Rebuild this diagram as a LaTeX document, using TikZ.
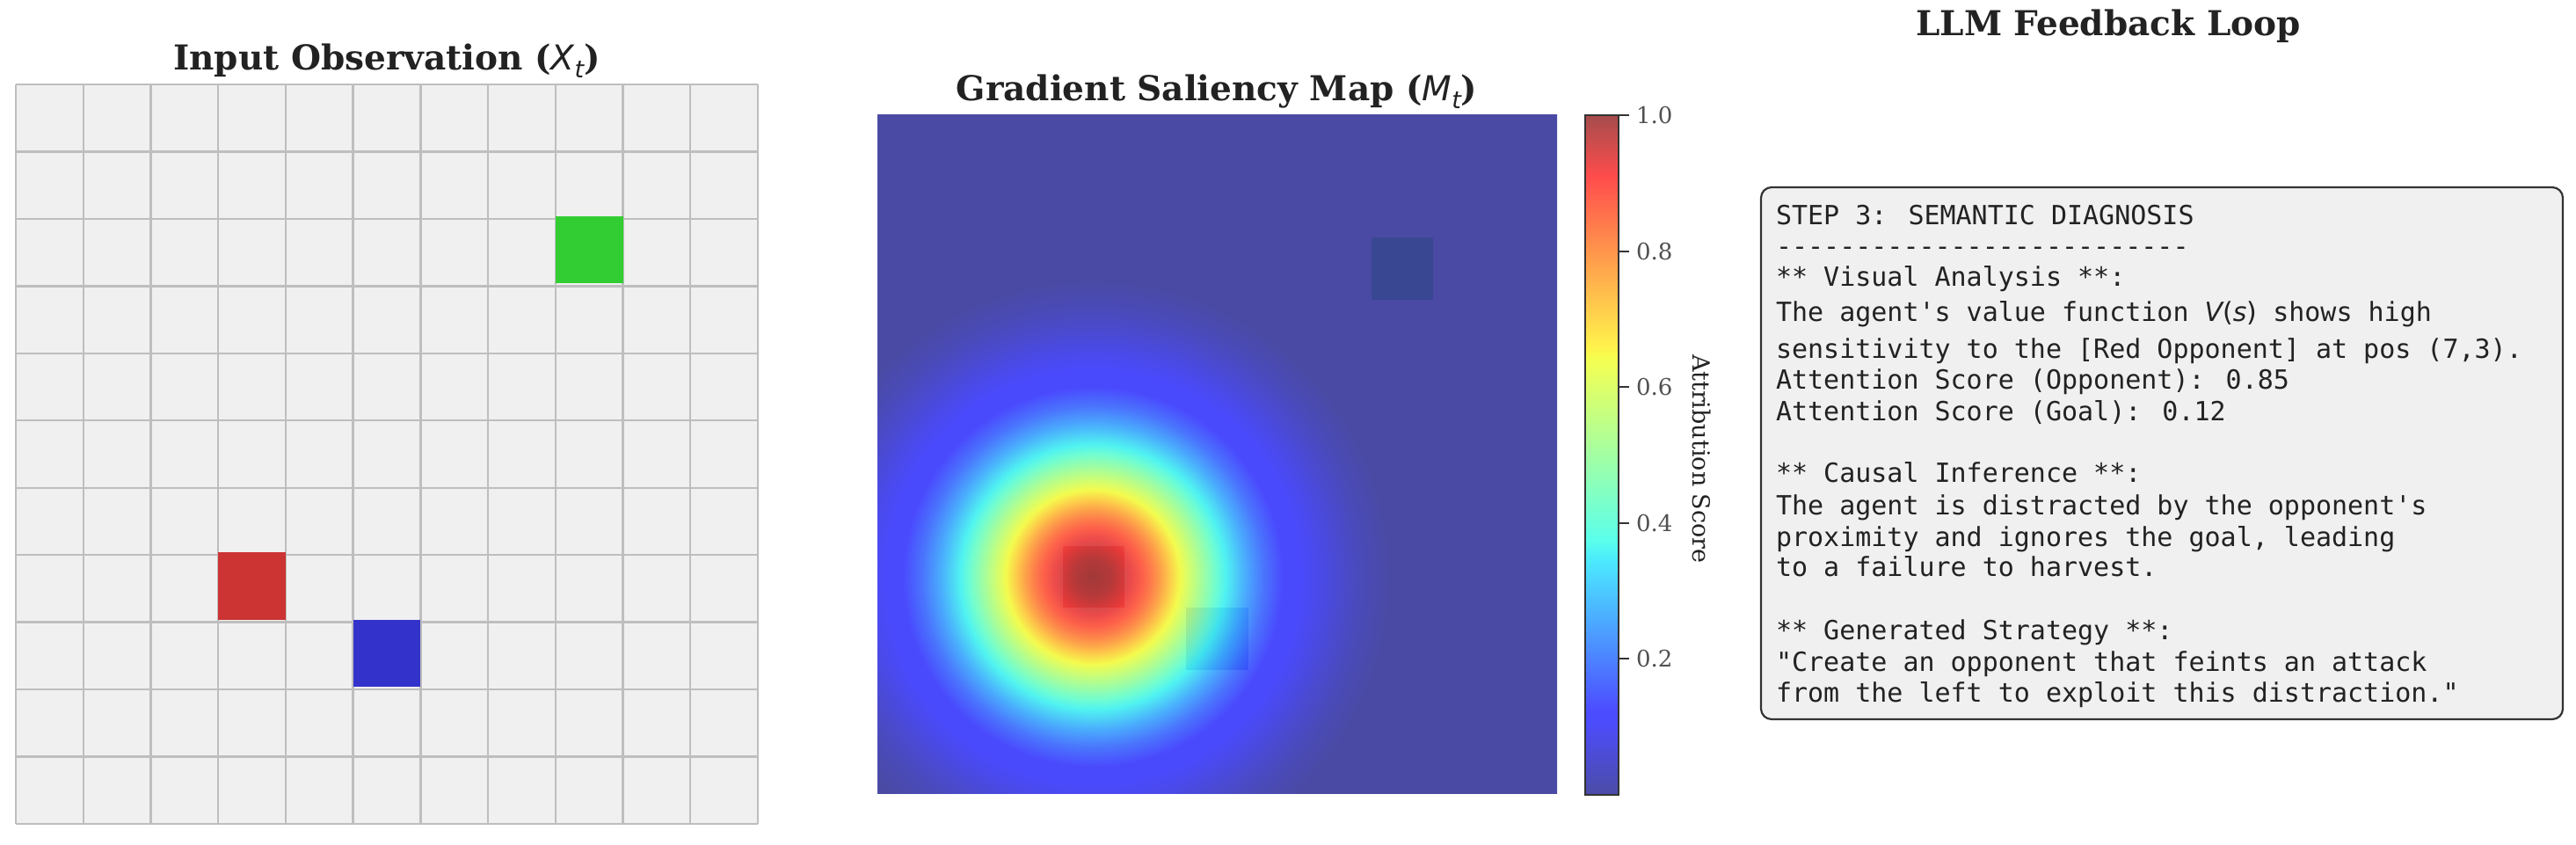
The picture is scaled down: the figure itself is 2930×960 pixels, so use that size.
\documentclass[tikz,border=0pt]{standalone}
\usepackage{fontspec}
\setmainfont{DejaVu Serif}
\newfontfamily\monof[Ligatures=TeXOff]{DejaVu Sans Mono}
\newfontfamily\msans{DejaVu Sans}
\definecolor{titlec}{RGB}{34,34,34}
\definecolor{txtc}{RGB}{34,34,34}
\definecolor{cellbg}{RGB}{240,240,240}
\definecolor{gridc}{RGB}{190,190,190}
\definecolor{goalc}{RGB}{50,205,50}
\definecolor{oppc}{RGB}{204,51,51}
\definecolor{agentc}{RGB}{51,51,204}
\definecolor{boxbg}{RGB}{240,240,240}
\definecolor{boxedge}{RGB}{51,51,51}
\definecolor{tickc}{RGB}{80,80,80}
\definecolor{layerbg}{rgb}{0.982,0.982,0.982}
\definecolor{layergoal}{rgb}{0.759,0.941,0.759}
\definecolor{layeropp}{rgb}{0.94,0.76,0.76}
\definecolor{layeragent}{rgb}{0.76,0.76,0.94}
\pgfdeclareradialshading{heat}{\pgfpointorigin}{%
rgb(0bp)=(0.5,0,0);
rgb(0.675bp)=(0.62,0,0);
rgb(1.344bp)=(0.9,0,0);
rgb(1.75bp)=(1,0.12,0);
rgb(2.1bp)=(1,0.3,0);
rgb(2.42bp)=(1,0.5,0);
rgb(2.72bp)=(1,0.715,0);
rgb(3.094bp)=(0.948,0.985,0.019);
rgb(3.375bp)=(0.787,1,0.181);
rgb(3.719bp)=(0.59,1,0.377);
rgb(4.0625bp)=(0.394,1,0.574);
rgb(4.375bp)=(0.21,1,0.758);
rgb(4.719bp)=(0.032,0.94,0.935);
rgb(5.406bp)=(0,0.556,1);
rgb(6.0625bp)=(0,0.24,1);
rgb(6.75bp)=(0,0,1);
rgb(7.34bp)=(0,0,1);
rgb(7.97bp)=(0,0,0.9);
rgb(8.75bp)=(0,0,0.75);
rgb(9.53bp)=(0,0,0.62);
rgb(10.62bp)=(0,0,0.5);
rgb(50bp)=(0,0,0.5)}
\pgfdeclareverticalshading{jetbar}{100bp}{%
rgb(0bp)=(0.3,0.3,0.65);
rgb(25bp)=(0.3,0.3,0.65);
rgb(30.5bp)=(0.3,0.3,1);
rgb(31.25bp)=(0.3,0.3,1);
rgb(42bp)=(0.3,0.902,1);
rgb(42.5bp)=(0.3,0.93,0.977);
rgb(43.75bp)=(0.356,1,0.921);
rgb(57bp)=(0.955,1,0.323);
rgb(57.5bp)=(0.978,0.974,0.3);
rgb(58bp)=(1,0.948,0.3);
rgb(69.5bp)=(1,0.352,0.3);
rgb(70.5bp)=(1,0.3,0.3);
rgb(75bp)=(0.65,0.3,0.3);
rgb(100bp)=(0.65,0.3,0.3)}
\newcommand\titlef{\fontsize{19.5}{23}\selectfont\bfseries}
\newcommand\mvar[2]{{\msans\mdseries\itshape #1}\raisebox{-0.25em}{\fontsize{13.5}{14}\selectfont\msans\mdseries\itshape #2}}
\newcommand\slvar[1]{{\msans\itshape #1}}
\tikzset{
  titletext/.style={font=\titlef, text=titlec, anchor=base},
  gridline/.style={draw=gridc, line width=1.2pt},
  monoline/.style={font={\monof\fontsize{15}{18}\selectfont}, text=txtc, anchor=base west},
  ticklabel/.style={font={\fontsize{13}{15}\selectfont}, text=tickc, anchor=west},
  cbticks/.style={draw=boxedge, line width=1pt},
  panelbox/.style={draw=boxedge, fill=boxbg, line width=1.1pt, rounded corners=6pt, inner sep=0pt, outer sep=0pt},
}
\begin{document}
\begin{tikzpicture}[x=0.5pt,y=-0.5pt, every node/.style={inner sep=0pt, outer sep=0pt}]
\useasboundingbox (0,0) rectangle (2930,960);
\fill[white] (0,0) rectangle (2930,960);

% ---------- Panel 1: input observation ----------
\node[titletext] (title1) at (440,79) {Input Observation (\mvar{X}{t})};
\fill[cellbg] (18,96) rectangle (862,937);
\foreach \i in {0,...,11} {
  \draw[gridline] ({18+\i*76.727},96) -- ({18+\i*76.727},937);
  \draw[gridline] (18,{96+\i*76.45}) -- (862,{96+\i*76.45});
}
\fill[goalc]  ({18+8*76.727},{96+2*76.45-3}) rectangle ++(76.727,76.45);
\fill[oppc]   ({18+3*76.727},{96+7*76.45-3}) rectangle ++(76.727,76.45);
\fill[agentc] ({18+5*76.727},{96+8*76.45-3}) rectangle ++(76.727,76.45);

% ---------- Panel 2: saliency map ----------
\node[titletext] (title2) at (1384,114) {Gradient Saliency Map (\mvar{M}{t})};
\fill[layerbg] (998,130) rectangle (1771,902);
\fill[layergoal]  ({998+8*70.27},{130+2*70.18}) rectangle ++(70.27,70.18);
\fill[layeropp]   ({998+3*70.27},{130+7*70.18}) rectangle ++(70.27,70.18);
\fill[layeragent] ({998+5*70.27},{130+8*70.18}) rectangle ++(70.27,70.18);
\begin{scope}
  \clip (998,130) rectangle (1771,902);
  \shade[shading=heat, fill opacity=0.7] (443,-144) rectangle (2043,1456);
\end{scope}

% colorbar
\shade[shading=jetbar] (1803,131) rectangle (1841,904);
\draw[boxedge, line width=1pt] (1803,131) rectangle (1841,904);
\foreach \v/\n in {0.2/a,0.4/b,0.6/c,0.8/d,1.0/e} {
  \draw[cbticks] (1841,{904-\v*773}) -- (1853,{904-\v*773});
  \node[ticklabel] (tick\n) at (1861,{904-\v*773}) {\v};
}
\node[rotate=-90, font={\fontsize{13.5}{15}\selectfont}, text=txtc] (cblabel) at (1936,522) {Attribution Score};

% ---------- Panel 3: LLM feedback ----------
\node[titletext] (title3) at (2398,40) {LLM Feedback Loop};
\node[panelbox, anchor=north west, minimum width=456pt, minimum height=302.5pt] (box) at (2003,213) {};
\node[monoline] (l1)  at (2020,255) {STEP 3: SEMANTIC DIAGNOSIS};
\node[monoline] (l2)  at (2020,290) {--------------------------};
\node[monoline] (l3)  at (2020,325) {** Visual Analysis **:};
\node[monoline] (l4)  at (2020,365) {The agent's value function \slvar{V}{\msans(}\slvar{s}{\msans)} shows high};
\node[monoline] (l5)  at (2020,407) {sensitivity to the [Red Opponent] at pos (7,3).};
\node[monoline] (l6)  at (2020,442) {Attention Score (Opponent): 0.85};
\node[monoline] (l7)  at (2020,478) {Attention Score (Goal): 0.12};
\node[monoline] (l8)  at (2020,548) {** Causal Inference **:};
\node[monoline] (l9)  at (2020,585) {The agent is distracted by the opponent's};
\node[monoline] (l10) at (2020,621) {proximity and ignores the goal, leading};
\node[monoline] (l11) at (2020,655) {to a failure to harvest.};
\node[monoline] (l12) at (2020,727) {** Generated Strategy **:};
\node[monoline] (l13) at (2020,763) {"Create an opponent that feints an attack};
\node[monoline] (l14) at (2020,798) {from the left to exploit this distraction."};
\end{tikzpicture}
\end{document}
